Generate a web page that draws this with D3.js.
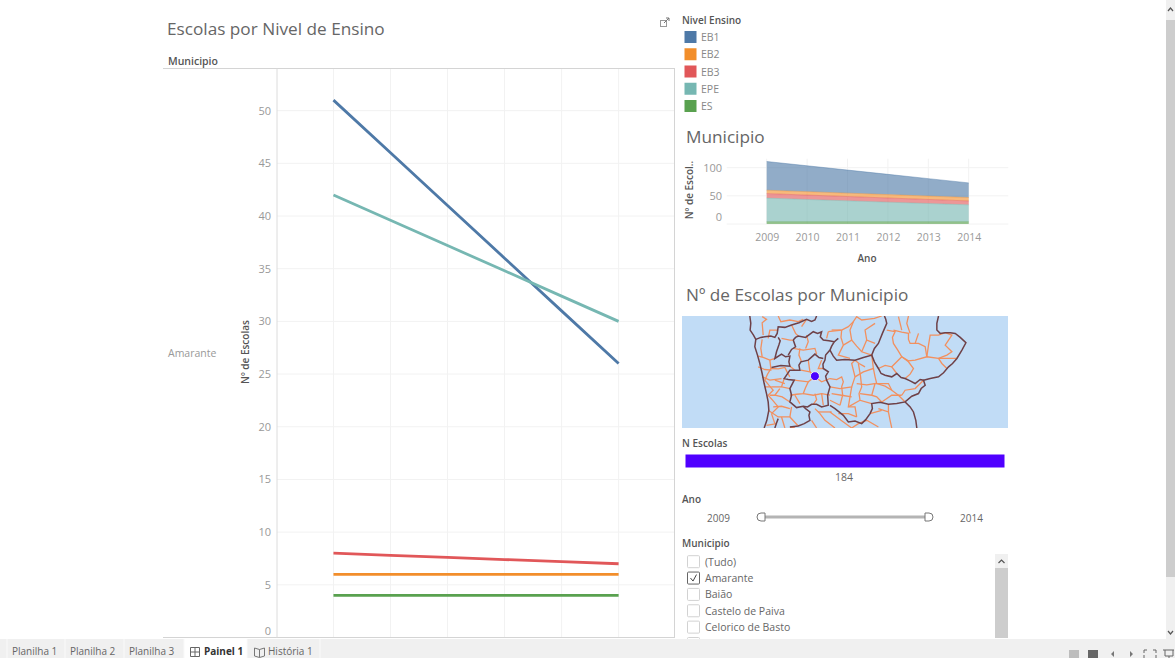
<!DOCTYPE html>
<html>
<head>
<meta charset="utf-8">
<script src="https://cdn.jsdelivr.net/npm/d3@7"></script>
<style>
  html, body { margin: 0; padding: 0; background: #fff; overflow: hidden; }
  svg { display: block; font-family: "Open Sans", sans-serif; }
  .grid line { stroke: #f2f2f2; }
  .tick-labels text { fill: #999; }
</style>
</head>
<body>
<svg id="chart" width="1175" height="658"></svg>
<script>
const years = [2009, 2010, 2011, 2012, 2013, 2014];
const levels = ['EB1', 'EB2', 'EB3', 'EPE', 'ES'];
const eb1 = [51, 46, 41, 36, 31, 26];
const eb2 = [6, 6, 6, 6, 6, 6];
const eb3 = [8, 7.8, 7.6, 7.4, 7.2, 7];
const epe = [42, 39.6, 37.2, 34.8, 32.4, 30];
const es = [4, 4, 4, 4, 4, 4];
const levelColors = ['#4e79a7', '#f28e2b', '#e15759', '#76b7b2', '#59a14f'];
const lineTicks = [0, 5, 10, 15, 20, 25, 30, 35, 40, 45, 50];
const areaTicks = [0, 50, 100];
const totalSchools = 184;
const municipios = ['(Tudo)', 'Amarante', 'Baião', 'Castelo de Paiva', 'Celorico de Basto', ''];
const tabs = ['Planilha 1', 'Planilha 2', 'Planilha 3', 'Painel 1', 'História 1'];

// map outlines, in crop coordinates
const districtBorders = [
  [[225,108],[228,130],[226,150],[236,165],[243,178],[240,200],[248,225],[255,250],[262,280],[268,310],[275,340],[280,365],[282,390],[276,420],[268,443]],
  [[243,178],[258,172],[270,170],[288,168],[300,172],[307,160],[310,140],[330,142],[350,135],[372,128],[395,118],[410,124],[420,120],[425,108]],
  [[310,172],[316,182],[312,195],[305,215],[300,235],[320,222],[332,230],[345,228],[342,245],[345,258],[318,256],[290,262]],
  [[355,180],[362,172],[370,168],[392,172],[415,155],[428,160],[440,155],[436,170],[445,180],[462,182],[478,185],[470,198],[465,210],[452,225],[450,240],[444,252],[445,265],[460,275],[452,288],[455,300],[465,320],[458,345],[460,375],[440,380],[425,372],[410,372],[398,380],[385,378],[365,382],[345,365],[350,345],[345,325],[358,300],[340,298],[328,295],[345,270],[375,270],[372,255],[378,245],[400,240],[420,222],[432,232],[445,235]],
  [[355,180],[362,200],[350,208],[340,225]],
  [[478,185],[490,175]],
  [[465,210],[475,228],[485,240],[510,238],[540,240],[565,232],[590,225],[598,205],[610,190],[622,160],[635,130],[632,118],[628,108]],
  [[590,225],[598,245],[610,265],[618,280],[630,285],[650,290],[665,280],[678,292],[690,295],[705,302],[720,310],[735,298],[745,300],[750,315],[738,325],[730,340],[710,348],[690,365],[665,370],[640,372],[615,366],[590,370],[592,385],[585,400],[572,418],[560,430],[540,422],[520,425],[505,405],[480,385],[465,375]],
  [[690,365],[705,380],[715,395],[722,420],[725,443]],
  [[790,108],[785,130],[785,150],[795,160],[810,158],[825,158],[840,160],[855,172],[872,188],[860,210],[845,235],[832,250],[820,260],[805,278],[790,290],[765,295],[745,300]],
  [[345,440],[370,437],[388,430],[405,420],[402,405],[405,395],[392,385],[385,378]],
  [[300,443],[305,428],[310,415]]
];
const municipalBorders = [
  [[262,110],[275,118],[262,128],[265,165]],
  [[310,108],[318,125],[345,120],[370,125],[385,118]],
  [[350,135],[362,160],[370,168]],
  [[262,178],[258,205],[262,230]],
  [[300,235],[285,240],[265,232],[250,228]],
  [[285,240],[288,265],[278,282],[270,300],[282,315],[295,330],[280,345],[295,362],[310,380],[290,400]],
  [[288,265],[310,266],[330,262],[338,278],[345,290]],
  [[375,205],[372,225],[380,245]],
  [[355,205],[385,210],[420,205],[425,222]],
  [[395,165],[400,185],[392,205]],
  [[345,258],[360,270]],
  [[378,270],[405,275],[420,290],[440,305],[465,295]],
  [[358,300],[400,305],[420,290]],
  [[400,305],[392,322],[385,340],[365,342],[345,345]],
  [[385,340],[415,345],[440,340],[465,345]],
  [[420,340],[425,358],[415,372]],
  [[328,295],[320,320],[345,325]],
  [[320,320],[290,320]],
  [[300,345],[322,350],[345,365]],
  [[465,320],[495,325],[530,320],[535,305],[540,290],[535,270],[530,250],[540,240]],
  [[465,295],[485,298],[500,290],[505,305],[500,320],[503,345],[495,375]],
  [[530,320],[525,350],[520,380],[540,380],[545,410]],
  [[540,290],[565,275],[595,265],[590,225]],
  [[595,265],[600,290],[605,310],[630,318],[650,330],[670,345],[690,365]],
  [[545,310],[575,314],[600,310],[590,345],[605,350],[620,365]],
  [[550,250],[556,285],[560,320],[552,340],[555,360],[590,370]],
  [[460,155],[500,150],[520,140],[535,125],[545,110],[560,120],[575,118],[598,115],[620,108]],
  [[500,150],[498,172],[505,195],[490,225],[525,235]],
  [[505,195],[530,180],[545,198],[560,215],[590,225]],
  [[535,125],[525,150],[530,180]],
  [[575,180],[560,215]],
  [[635,150],[660,155],[652,172],[655,190],[668,210],[680,230],[700,242],[720,240],[755,230],[790,235],[845,235]],
  [[655,150],[680,156],[700,160],[700,178],[705,190],[730,190],[750,200],[755,230]],
  [[700,108],[695,130],[705,160]],
  [[755,230],[760,195],[765,165],[790,165],[810,158]],
  [[810,158],[830,165],[820,180],[810,195],[830,215],[815,225],[790,235]],
  [[680,230],[665,245],[650,260],[630,256],[610,265]],
  [[650,260],[665,280]],
  [[680,230],[700,245],[715,265],[705,282],[690,295]],
  [[790,235],[800,250],[815,265]],
  [[745,300],[720,325],[690,330],[680,345]],
  [[280,390],[310,410],[345,410],[370,437]],
  [[350,380],[345,410]],
  [[420,385],[435,400],[450,420],[480,443]],
  [[465,395],[498,420],[530,443],[550,430],[575,420],[610,440]],
  [[610,385],[640,395],[645,420],[650,443]],
  [[585,400],[620,390]],
  [[640,395],[640,372]],
  [[275,435],[305,430]],
  [[345,440],[360,443]],
  [[250,260],[270,268],[290,270]],
  [[262,290],[285,300],[320,295]],
  [[270,320],[290,320]],
  [[285,345],[300,345],[315,325]],
  [[295,380],[320,378],[345,385]],
  [[300,300],[330,310]],
  [[400,240],[405,275]],
  [[440,240],[430,265],[445,265]],
  [[360,345],[375,370]],
  [[440,340],[445,375]],
  [[470,340],[500,345],[530,350]],
  [[465,360],[495,375]],
  [[555,360],[520,380]],
  [[600,310],[640,310],[650,330]],
  [[540,240],[552,250],[570,260]],
  [[590,345],[555,340]],
  [[620,365],[650,345],[680,345]],
  [[490,400],[520,400],[545,410]],
  [[430,395],[470,395]],
  [[290,400],[300,430]],
  [[320,410],[330,443]],
  [[410,420],[425,443]],
  [[680,150],[670,110]],
  [[720,190],[730,160]],
  [[460,155],[455,175]],
  [[280,175],[285,150],[310,150]],
  [[320,175],[345,180],[355,180]],
  [[395,118],[380,140]],
  [[600,190],[575,180],[570,150],[600,130]],
  [[500,150],[470,150]]
];
const selectedPoint = [420, 288];

const svg = d3.select('#chart');
const series = [eb1, eb2, eb3, epe, es];

function label(x, y, text, size, color, weight, anchor) {
  return svg.append('text').attr('x', x).attr('y', y).text(text)
    .attr('font-size', size).attr('fill', color)
    .attr('font-weight', weight || 400).attr('text-anchor', anchor || 'start');
}

// main line chart
const x = d3.scaleLinear().domain([2008.01, 2014.98]).range([277, 674.5]);
const y = d3.scaleLinear().domain([0, 54]).range([637.5, 68.5]);

const grid = svg.append('g').attr('class', 'grid');
grid.selectAll('.v').data(years).join('line').attr('class', 'v')
  .attr('x1', d => x(d)).attr('x2', d => x(d)).attr('y1', 68.5).attr('y2', 637.5);
grid.selectAll('.h').data(lineTicks.slice(1)).join('line').attr('class', 'h')
  .attr('x1', 277).attr('x2', 674.5).attr('y1', d => y(d)).attr('y2', d => y(d));

svg.append('line').attr('x1', 163).attr('x2', 675).attr('y1', 68.5).attr('y2', 68.5).attr('stroke', '#d4d4d4');
svg.append('line').attr('x1', 163).attr('x2', 675).attr('y1', 637.5).attr('y2', 637.5).attr('stroke', '#d4d4d4');
svg.append('line').attr('x1', 277).attr('x2', 277).attr('y1', 68.5).attr('y2', 637.5).attr('stroke', '#dcdcdc');
svg.append('line').attr('x1', 674.5).attr('x2', 674.5).attr('y1', 68.5).attr('y2', 637.5).attr('stroke', '#d4d4d4');

const yAxis = svg.append('g').attr('class', 'tick-labels')
  .attr('transform', 'translate(277,0)')
  .call(d3.axisLeft(y).tickValues(lineTicks).tickSize(0).tickPadding(6));
yAxis.select('.domain').remove();
yAxis.selectAll('text').attr('font-size', 11).attr('font-family', '"Open Sans", sans-serif')
  .attr('dy', d => d === 0 ? '-0.3em' : '0.32em');

const line = d3.line().x((d, i) => x(years[i])).y(d => y(d));
svg.append('g').selectAll('path').data(series).join('path')
  .attr('fill', 'none').attr('stroke', (d, i) => levelColors[i])
  .attr('stroke-width', 2.8).attr('d', line);

label(167, 35, 'Escolas por Nivel de Ensino', 17.2, '#666');
label(168, 65, 'Municipio', 10.5, '#555', 600);
label(168, 357, 'Amarante', 10.5, '#999');
svg.append('text').attr('transform', 'translate(249,352) rotate(-90)')
  .attr('text-anchor', 'middle').attr('font-size', 10).attr('font-weight', 600)
  .attr('fill', '#555').text('Nº de Escolas');

// open-in-new icon
svg.append('rect').attr('x', 660.5).attr('y', 20.5).attr('width', 6).attr('height', 6)
  .attr('fill', 'none').attr('stroke', '#999');
svg.append('path').attr('d', 'M664,23 L669,18 M666,18 H669 V21').attr('fill', 'none').attr('stroke', '#777');

// legend
label(682, 24, 'Nivel Ensino', 10, '#555', 600);
const legendY = d3.scalePoint().domain(levels).range([37, 106]);
svg.append('g').selectAll('rect').data(levels).join('rect')
  .attr('x', 684.5).attr('y', d => legendY(d) - 6).attr('width', 12).attr('height', 12)
  .attr('fill', (d, i) => levelColors[i]);
svg.append('g').selectAll('text').data(levels).join('text')
  .attr('x', 701).attr('y', d => legendY(d) + 4).attr('font-size', 10.5).attr('fill', '#888').text(d => d);

// stacked area chart
label(686, 143, 'Municipio', 17.2, '#666');
const xa = d3.scaleLinear().domain([2008.01, 2014.98]).range([726.7, 1008.3]);
const ya = d3.scaleLinear().domain([0, 116]).range([224, 158.7]);

const gridA = svg.append('g').attr('class', 'grid');
gridA.selectAll('.v').data(years).join('line').attr('class', 'v')
  .attr('x1', d => xa(d)).attr('x2', d => xa(d)).attr('y1', 158.7).attr('y2', 224);
gridA.selectAll('.h').data(areaTicks).join('line').attr('class', 'h')
  .attr('x1', 726.7).attr('x2', 1008.3).attr('y1', d => ya(d)).attr('y2', d => ya(d));

const stackRows = years.map((yr, i) => {
  const row = { yr };
  levels.forEach((l, j) => { row[l] = series[j][i]; });
  return row;
});
const stackOrder = ['ES', 'EPE', 'EB3', 'EB2', 'EB1'];
const stacked = d3.stack().keys(stackOrder)(stackRows);
const area = d3.area().x(d => xa(d.data.yr)).y0(d => ya(d[0])).y1(d => ya(d[1]));
const topLine = d3.line().x(d => xa(d.data.yr)).y(d => ya(d[1]));
svg.append('g').selectAll('path').data(stacked).join('path')
  .attr('fill', d => levelColors[levels.indexOf(d.key)]).attr('fill-opacity', 0.62).attr('d', area);
svg.append('g').selectAll('path').data(stacked).join('path')
  .attr('fill', 'none').attr('stroke', d => levelColors[levels.indexOf(d.key)])
  .attr('stroke-opacity', 0.55).attr('stroke-width', 0.8).attr('d', topLine);

const xAxisA = svg.append('g').attr('class', 'tick-labels').attr('transform', 'translate(0,224)')
  .call(d3.axisBottom(xa).tickValues(years).tickFormat(d3.format('d')).tickSize(0).tickPadding(10));
xAxisA.select('.domain').remove();
xAxisA.selectAll('text').attr('font-size', 10.5).attr('font-family', '"Open Sans", sans-serif');

const yAxisA = svg.append('g').attr('class', 'tick-labels').attr('transform', 'translate(722,0)')
  .call(d3.axisLeft(ya).tickValues(areaTicks).tickSize(0).tickPadding(0));
yAxisA.select('.domain').remove();
yAxisA.selectAll('text').attr('font-size', 11).attr('font-family', '"Open Sans", sans-serif')
  .attr('dy', d => d === 0 ? '-0.3em' : '0.32em');

label(867, 262, 'Ano', 10, '#555', 600, 'middle');
svg.append('text').attr('transform', 'translate(693,190) rotate(-90)')
  .attr('text-anchor', 'middle').attr('font-size', 10).attr('font-weight', 600)
  .attr('fill', '#555').text('Nº de Escol..');

// map
label(686, 301, 'Nº de Escolas por Municipio', 17.2, '#666');
const mx = d3.scaleLinear().domain([22, 998]).range([682, 1008]);
const my = d3.scaleLinear().domain([108, 443]).range([316, 428]);
svg.append('clipPath').attr('id', 'mapClip').append('rect')
  .attr('x', 682).attr('y', 316).attr('width', 326).attr('height', 112);
svg.append('rect').attr('x', 682).attr('y', 316).attr('width', 326).attr('height', 112).attr('fill', '#c1dcf6');
const mapG = svg.append('g').attr('clip-path', 'url(#mapClip)');
const border = d3.line().x(d => mx(d[0])).y(d => my(d[1]));
mapG.selectAll('.mun').data(municipalBorders).join('path').attr('class', 'mun')
  .attr('fill', 'none').attr('stroke', '#f2905f').attr('stroke-width', 1.3).attr('d', border);
mapG.selectAll('.dis').data(districtBorders).join('path').attr('class', 'dis')
  .attr('fill', 'none').attr('stroke', '#6e4148').attr('stroke-width', 1.5).attr('d', border);
mapG.append('circle').attr('cx', mx(selectedPoint[0])).attr('cy', my(selectedPoint[1])).attr('r', 4.5)
  .attr('fill', '#4a00ff').attr('stroke', '#eee').attr('stroke-width', 1);

// colour legend
label(682, 447, 'N Escolas', 10, '#555', 600);
const barX = d3.scaleLinear().domain([0, totalSchools]).range([685.5, 1004.5]);
svg.append('rect').attr('x', barX(0)).attr('y', 454.5).attr('width', barX(totalSchools) - barX(0)).attr('height', 13)
  .attr('fill', '#5000ff');
label(844, 481, totalSchools, 10.5, '#666', 400, 'middle');

// year slider
label(682, 503, 'Ano', 10, '#555', 600);
const sx = d3.scaleLinear().domain([2009, 2014]).range([761, 929]);
label(707, 522, years[0], 10, '#666');
label(960, 522, years[5], 10, '#666');
svg.append('line').attr('x1', sx(2009)).attr('x2', sx(2014)).attr('y1', 517).attr('y2', 517)
  .attr('stroke', '#b4b4b4').attr('stroke-width', 3);
svg.append('path').attr('d', `M${sx(2009) + 4},513 H${sx(2009)} a4,4 0 0 0 0,8 H${sx(2009) + 4} Z`)
  .attr('fill', '#fff').attr('stroke', '#777');
svg.append('path').attr('d', `M${sx(2014) - 4},513 H${sx(2014)} a4,4 0 0 1 0,8 H${sx(2014) - 4} Z`)
  .attr('fill', '#fff').attr('stroke', '#777');

// municipio filter
label(682, 547, 'Municipio', 10, '#555', 600);
const rowY = d3.scaleLinear().domain([0, 5]).range([561.7, 643.5]);
const filter = svg.append('g').selectAll('g').data(municipios).join('g')
  .attr('transform', (d, i) => `translate(0,${rowY(i)})`);
filter.append('rect').attr('x', 687.5).attr('y', -6).attr('width', 12).attr('height', 12).attr('rx', 1)
  .attr('fill', '#fff').attr('stroke', (d, i) => i === 1 ? '#666' : '#d2d2d2');
filter.append('text').attr('x', 705).attr('y', 4).attr('font-size', 10.5).attr('fill', '#666').text(d => d);
svg.append('path').attr('d', `M690.5,${rowY(1)} l2.5,3 l3.5,-6.5`).attr('fill', 'none').attr('stroke', '#444');
svg.append('rect').attr('x', 995).attr('y', 554).attr('width', 13).attr('height', 84).attr('fill', '#f0f0f0');
svg.append('rect').attr('x', 995).attr('y', 568).attr('width', 13).attr('height', 70).attr('fill', '#cdcdcd');
svg.append('path').attr('d', 'M998.5,563 l3,-3 l3,3').attr('fill', 'none').attr('stroke', '#555').attr('stroke-width', 1.2);

// page scrollbar
svg.append('rect').attr('x', 1166).attr('y', 0).attr('width', 9).attr('height', 639).attr('fill', '#f0f0f0');
svg.append('rect').attr('x', 1166).attr('y', 20).attr('width', 9).attr('height', 557).attr('fill', '#cdcdcd');
svg.append('path').attr('d', 'M1168,11 l2.5,-3 l2.5,3').attr('fill', 'none').attr('stroke', '#555').attr('stroke-width', 1.2);
svg.append('path').attr('d', 'M1168,631 l2.5,3 l2.5,-3').attr('fill', 'none').attr('stroke', '#555').attr('stroke-width', 1.2);

// bottom tabs
svg.append('rect').attr('x', 0).attr('y', 639).attr('width', 1175).attr('height', 19).attr('fill', '#f0f0f0');
const tabEdges = [7, 65, 124, 184, 247, 320];
const tabTextX = [12, 70, 129, 204, 268];
svg.append('rect').attr('x', tabEdges[3]).attr('y', 639).attr('width', tabEdges[4] - tabEdges[3]).attr('height', 19).attr('fill', '#fff');
svg.append('g').selectAll('line').data(tabEdges).join('line')
  .attr('x1', d => d).attr('x2', d => d).attr('y1', 639).attr('y2', 658).attr('stroke', '#fafafa');
svg.append('g').selectAll('text').data(tabs).join('text')
  .attr('x', (d, i) => tabTextX[i]).attr('y', 655).attr('font-size', 10)
  .attr('font-weight', (d, i) => i === 3 ? 700 : 400)
  .attr('fill', (d, i) => i === 3 ? '#333' : '#666').text(d => d);
svg.append('path').attr('d', 'M190.5,647.5 h9 v9 h-9 Z M195,647.5 v9 M190.5,652 h9')
  .attr('fill', 'none').attr('stroke', '#666');
svg.append('path').attr('d', 'M254.5,648 l5,1.5 l5,-1.5 v8 l-5,1.5 l-5,-1.5 Z M259.5,649.5 v8')
  .attr('fill', 'none').attr('stroke', '#777');

// bottom right controls
svg.append('rect').attr('x', 1069).attr('y', 650).attr('width', 10).attr('height', 8).attr('fill', '#bdbdbd');
svg.append('rect').attr('x', 1088).attr('y', 650).attr('width', 10).attr('height', 8).attr('fill', '#666');
svg.append('path').attr('d', 'M1114,651 l-3,3 l3,3 Z M1130,651 l3,3 l-3,3 Z').attr('fill', '#777');
svg.append('path').attr('d', 'M1144,653 v-3 h3 M1153,650 h3 v3 M1144,655 v3 M1156,655 v3').attr('fill', 'none').attr('stroke', '#666');
svg.append('path').attr('d', 'M1163,650 h11 M1165,650 v6 h8 v-6 M1169,656 v2').attr('fill', 'none').attr('stroke', '#666');
</script>
</body>
</html>
